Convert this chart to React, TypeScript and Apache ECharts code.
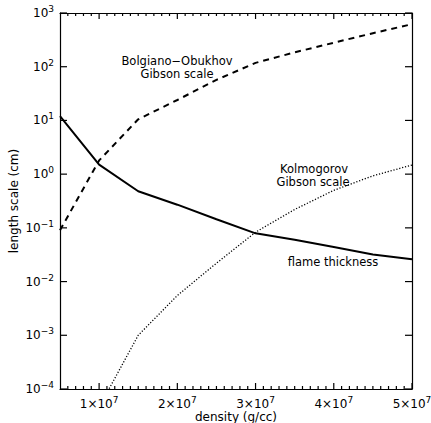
import React, { useEffect, useRef } from 'react';
import * as echarts from 'echarts';

// density (g/cc)
const densities = [5e6, 1e7, 1.5e7, 2e7, 2.5e7, 3e7, 3.5e7, 4e7, 4.5e7, 5e7];
// length scales (cm)
const flameThickness = [12, 1.5, 0.48, 0.27, 0.145, 0.079, 0.06, 0.044, 0.032, 0.026];
const bolgianoObukhov = [0.09, 1.8, 10.5, 24, 57, 118, 185, 280, 420, 620];
const kolmogorov = [null, 4.6e-5, 1e-3, 0.0055, 0.022, 0.083, 0.22, 0.5, 0.93, 1.48];

// axis ticks
const xMajorTicks = [1e7, 2e7, 3e7, 4e7, 5e7];
const xMinorStep = 1e6;
const yDecadeTicks = [1e-4, 1e-3, 1e-2, 1e-1, 1, 10, 100, 1000];

const X_MIN = 5e6;
const X_MAX = 5e7;
const Y_MIN = 1e-4;
const Y_MAX = 1e3;

const FONT = '"DejaVu Sans", sans-serif';

const toPairs = (ys: (number | null)[]) =>
  densities.map((x, i) => [x, ys[i]] as [number, number | null]).filter((p) => p[1] !== null);

const supMinus = (n: number) => (n < 0 ? '\u2212' + Math.abs(n) : String(n));

const rich = {
  b: { fontSize: 12, fontFamily: FONT, color: '#000' },
  s: { fontSize: 9, fontFamily: FONT, color: '#000', padding: [0, 0, 8, 0] },
};

// tick items for the custom tick series: [x, y, kind] kind 0 = x major, 1 = x minor, 2 = y major
const buildTickData = () => {
  const items: number[][] = [];
  xMajorTicks.forEach((v) => items.push([v, 1, 0]));
  const nMinor = Math.round((X_MAX - X_MIN) / xMinorStep);
  for (let i = 1; i < nMinor; i++) {
    const v = X_MIN + i * xMinorStep;
    if (!xMajorTicks.some((m) => Math.abs(m - v) < 1)) items.push([v, 1, 1]);
  }
  yDecadeTicks.forEach((v) => items.push([X_MIN, v, 2]));
  return items;
};

export default function App() {
  const ref = useRef<HTMLDivElement>(null);
  useEffect(() => {
    const chart = echarts.init(ref.current!, null, { renderer: 'svg' });
    const axisLine = () => ({ show: true, onZero: false, lineStyle: { color: '#000', width: 1.2 } });
    const tickStyle = { stroke: '#000', lineWidth: 1.2 };
    const option = {
      animation: false,
      backgroundColor: '#fff',
      grid: { left: 60, right: 19, top: 13, bottom: 34, outerBoundsMode: 'none', containLabel: false },
      xAxis: [
        {
          type: 'value',
          min: X_MIN,
          max: X_MAX,
          position: 'bottom',
          splitLine: { show: false },
          axisLine: axisLine(),
          name: 'density (g/cc)',
          nameLocation: 'middle',
          nameGap: 22,
          nameMoveOverlap: false,
          nameTextStyle: { fontSize: 12, fontFamily: FONT, color: '#000', verticalAlign: 'top' },
          axisTick: { show: false },
          axisLabel: {
            show: true,
            customValues: xMajorTicks,
            margin: 6,
            formatter: (v: number) => {
              const e = Math.floor(Math.log10(v) + 1e-9);
              const m = Math.round(v / Math.pow(10, e));
              return `{b|${m}\u00d710}{s|${e}}`;
            },
            rich,
          },
        },
        {
          type: 'value',
          min: X_MIN,
          max: X_MAX,
          position: 'top',
          splitLine: { show: false },
          axisLine: axisLine(),
          axisTick: { show: false },
          axisLabel: { show: false },
        },
      ],
      yAxis: [
        {
          type: 'log',
          logBase: 10,
          min: Y_MIN,
          max: Y_MAX,
          interval: 1,
          position: 'left',
          splitLine: { show: false },
          axisLine: axisLine(),
          name: 'length scale (cm)',
          nameLocation: 'middle',
          nameGap: 40,
          nameMoveOverlap: false,
          nameTextStyle: { fontSize: 12, fontFamily: FONT, color: '#000' },
          axisTick: { show: false },
          axisLabel: {
            show: true,
            margin: 6,
            formatter: (v: number) => `{b|10}{s|${supMinus(Math.round(Math.log10(v)))}}`,
            rich,
          },
        },
        {
          type: 'log',
          logBase: 10,
          min: Y_MIN,
          max: Y_MAX,
          position: 'right',
          splitLine: { show: false },
          axisLine: axisLine(),
          axisTick: { show: false },
          axisLabel: { show: false },
        },
      ],
      series: [
        {
          type: 'line',
          name: 'flame thickness',
          data: toPairs(flameThickness),
          showSymbol: false,
          symbol: 'none',
          lineStyle: { color: '#000', width: 2, type: 'solid' },
        },
        {
          type: 'line',
          name: 'Bolgiano-Obukhov Gibson scale',
          data: toPairs(bolgianoObukhov),
          showSymbol: false,
          symbol: 'none',
          lineStyle: { color: '#000', width: 2, type: [6, 5] },
        },
        {
          type: 'line',
          name: 'Kolmogorov Gibson scale',
          data: toPairs(kolmogorov),
          showSymbol: false,
          symbol: 'none',
          lineStyle: { color: '#000', width: 1.3, type: [1.2, 1.8] },
        },
        {
          type: 'custom',
          name: 'ticks',
          silent: true,
          clip: false,
          z: 10,
          data: buildTickData(),
          renderItem: (params: any, api: any) => {
            const cs = params.coordSys;
            const kind = api.value(2);
            if (kind === 2) {
              const py = api.coord([X_MIN, api.value(1)])[1];
              return {
                type: 'group',
                children: [
                  { type: 'line', shape: { x1: cs.x, y1: py, x2: cs.x + 7, y2: py }, style: tickStyle },
                  { type: 'line', shape: { x1: cs.x + cs.width, y1: py, x2: cs.x + cs.width - 7, y2: py }, style: tickStyle },
                ],
              };
            }
            const px = api.coord([api.value(0), 1])[0];
            const len = kind === 0 ? 6 : 3;
            const bottom = cs.y + cs.height;
            return {
              type: 'group',
              children: [
                { type: 'line', shape: { x1: px, y1: bottom, x2: px, y2: bottom - len }, style: tickStyle },
                { type: 'line', shape: { x1: px, y1: cs.y, x2: px, y2: cs.y + len }, style: tickStyle },
              ],
            };
          },
        },
      ],
      graphic: [
        { type: 'text', x: 177, y: 61, style: { text: 'Bolgiano\u2212Obukhov', fill: '#000', font: `11.5px ${FONT}`, textAlign: 'center', textVerticalAlign: 'middle' } },
        { type: 'text', x: 177, y: 74, style: { text: 'Gibson scale', fill: '#000', font: `11.5px ${FONT}`, textAlign: 'center', textVerticalAlign: 'middle' } },
        { type: 'text', x: 314, y: 169, style: { text: 'Kolmogorov', fill: '#000', font: `11.5px ${FONT}`, textAlign: 'center', textVerticalAlign: 'middle' } },
        { type: 'text', x: 313, y: 182, style: { text: 'Gibson scale', fill: '#000', font: `11.5px ${FONT}`, textAlign: 'center', textVerticalAlign: 'middle' } },
        { type: 'text', x: 333, y: 262, style: { text: 'flame thickness', fill: '#000', font: `11.5px ${FONT}`, textAlign: 'center', textVerticalAlign: 'middle' } },
      ],
    };
    chart.setOption(option as any);
    return () => chart.dispose();
  }, []);
  return <div ref={ref} style={{ position: 'absolute', left: 0, top: 0, width: 431, height: 423 }} />;
}
